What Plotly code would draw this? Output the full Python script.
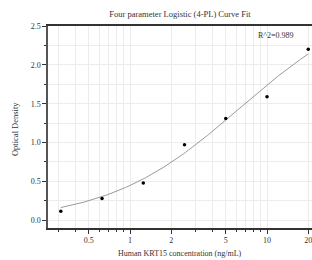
import numpy as np
import plotly.graph_objects as go

# Data
conc = [0.3125, 0.625, 1.25, 2.5, 5, 10, 20]
od = [0.116, 0.28, 0.48, 0.97, 1.31, 1.59, 2.20]
# fitted-curve heights at the same concentrations
curve_od = [0.17, 0.29, 0.53, 0.88, 1.28, 1.74, 2.14]
major_ticks = [0.5, 1, 2, 5, 10, 20]
major_labels = ["0.5", "1", "2", "5", "10", "20"]
minor_ticks = [0.3, 0.4, 0.6, 0.7, 0.8, 0.9, 3, 4, 6, 7, 8, 9]
y_ticks = [0, 0.5, 1.0, 1.5, 2.0, 2.5]
y_labels = ["0.0", "0.5", "1.0", "1.5", "2.0", "2.5"]
title_text = "Four parameter Logistic (4-PL) Curve Fit"
r2_text = "R^2=0.989"
x_title = "Human KRT15 concentration (ng/mL)"
y_title = "Optical Density"

# 4-PL curve: least-squares fit (grid over B, C; linear solve for A, D)
x = np.array(conc, float)
y = np.array(curve_od, float)
best = None
for B in np.linspace(0.5, 3.0, 126):
    for C in np.exp(np.linspace(np.log(0.5), np.log(500), 300)):
        g = 1.0 / (1.0 + (x / C) ** B)
        M = np.column_stack([g, 1 - g])
        coef, *_ = np.linalg.lstsq(M, y, rcond=None)
        sse = float(np.sum((M @ coef - y) ** 2))
        if best is None or sse < best[0]:
            best = (sse, coef[0], B, C, coef[1])
_, A, B, C, D = best
xc = np.exp(np.linspace(np.log(conc[0]), np.log(conc[-1]), 200))
yc = D + (A - D) / (1 + (xc / C) ** B)

font = "Liberation Serif, Times New Roman, serif"
fig = go.Figure()
fig.add_trace(go.Scatter(x=xc, y=yc, mode="lines",
                         line=dict(color="#9a9a9a", width=1), hoverinfo="skip"))
fig.add_trace(go.Scatter(x=conc, y=od, mode="markers",
                         marker=dict(color="black", size=3.5)))

fig.update_layout(
    width=312, height=260,
    margin=dict(l=48, r=0, t=26, b=32),
    paper_bgcolor="white", plot_bgcolor="white",
    showlegend=False,
    font=dict(family=font, size=8, color="#333"),
    title=dict(text=title_text, x=0.577, xanchor="center", y=0.946, yanchor="middle",
               font=dict(family=font, size=8.5, color="#333")),
    annotations=[
        dict(text=r2_text, xref="paper", yref="paper", x=0.864, y=0.955,
             xanchor="center", yanchor="middle", showarrow=False,
             font=dict(family=font, size=8, color="#333")),
        dict(text=x_title, xref="paper", yref="paper", x=0.5, y=-0.124,
             xanchor="center", yanchor="middle", showarrow=False,
             font=dict(family=font, size=8, color="#333")),
        dict(text=y_title, xref="paper", yref="paper", x=-0.125, y=0.49,
             xanchor="center", yanchor="middle", showarrow=False, textangle=-90,
             font=dict(family=font, size=8.5, color="#333")),
    ],
)
fig.update_xaxes(
    type="log", range=[np.log10(0.252), np.log10(21.3)],
    tickvals=major_ticks, ticktext=major_labels, ticklabeloverflow="allow",
    tickfont=dict(size=8),
    ticks="outside", ticklen=4, tickcolor="#333", automargin=False,
    showline=True, linecolor="#333", linewidth=1.5, mirror=True,
    showgrid=True, gridcolor="#ececec", gridwidth=1, zeroline=False,
    minor=dict(tickvals=minor_ticks, ticks="outside", ticklen=2, tickcolor="#333",
               showgrid=True, gridcolor="#ececec"),
)
fig.update_yaxes(
    range=[-0.1, 2.5], tickvals=y_ticks, ticktext=y_labels,
    tickfont=dict(size=8),
    ticks="outside", ticklen=4, tickcolor="#333", automargin=False,
    showline=True, linecolor="#555", linewidth=1.5,
    showgrid=True, gridcolor="#ececec", gridwidth=1, zeroline=False,
    minor=dict(dtick=0.25, ticks="outside", ticklen=2, tickcolor="#333",
               showgrid=True, gridcolor="#ececec"),
)
fig.write_html("out.html", config={"displayModeBar": False},
               post_script="document.body.style.margin='0';")
